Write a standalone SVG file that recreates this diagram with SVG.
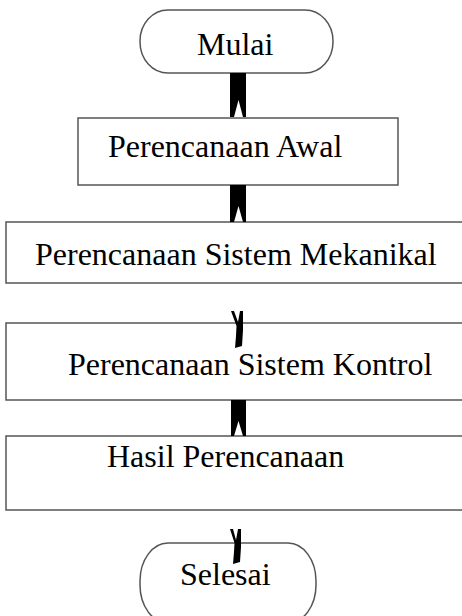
<svg xmlns="http://www.w3.org/2000/svg" width="462" height="616" viewBox="0 0 462 616">
<style>
.box{fill:#fff;stroke:#555;stroke-width:1.5}
.t{font-family:"Liberation Serif","Times New Roman",serif;font-size:32px;fill:#000}
.c{fill:#000;stroke:none}
</style>
<rect width="462" height="616" fill="#fff"/>
<g id="mulai"><rect class="box" x="140" y="10" width="193" height="63" rx="28" ry="31"/><text class="t" x="197" y="55">Mulai</text></g>
<g id="awal"><rect class="box" x="78" y="118" width="320" height="67"/><text class="t" x="108" y="157">Perencanaan Awal</text></g>
<g id="mekanikal"><rect class="box" x="6" y="222" width="470" height="61"/><text class="t" x="35" y="265">Perencanaan Sistem Mekanikal</text></g>
<g id="kontrol"><rect class="box" x="6" y="323" width="470" height="77"/><text class="t" x="68" y="375">Perencanaan Sistem Kontrol</text></g>
<g id="hasil"><rect class="box" x="6" y="436" width="470" height="74"/><text class="t" x="107" y="467">Hasil Perencanaan</text></g>
<g id="selesai"><rect class="box" x="140" y="543" width="176" height="80" rx="28" ry="38"/><text class="t" x="180" y="585">Selesai</text></g>
<g id="connectors">
<path class="c" d="M230,73 H246 V117 H243 L238.5,100 L234,117 H230 Z"/>
<path class="c" d="M230,185 H246 V222 H243 L238.5,206 L234,222 H230 Z"/>
<path class="c" d="M231,311 L234,311 L238,322 L240,311 L243,311 L243,330 L242,346 L235,348 L236,336 L236.5,326 Z"/>
<path class="c" d="M231,400 H246 V436 H243 L238.5,421 L234,436 H231 Z"/>
<path class="c" d="M230,529 L233,529 L236,540 L238,529 L241,529 L241,547 L240,562 L233,564 L234,552 L234.5,543 Z"/>
</g>
</svg>
